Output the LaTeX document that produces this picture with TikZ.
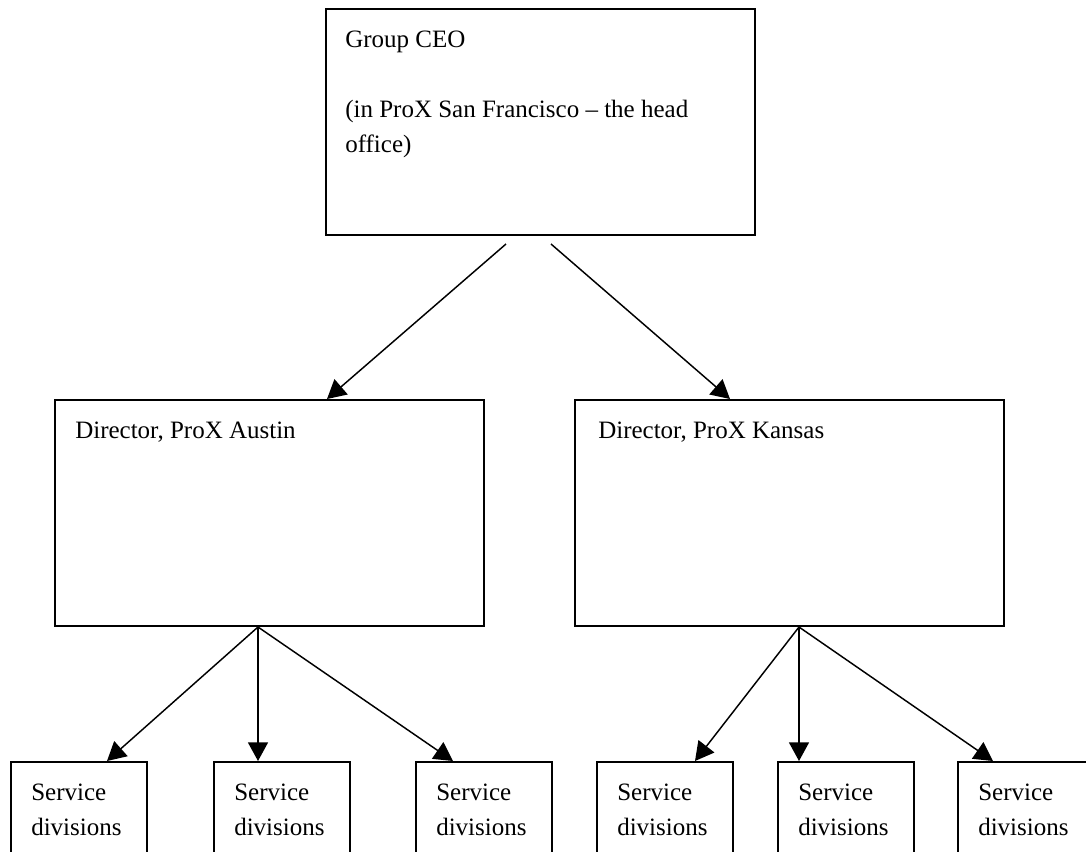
\documentclass[tikz,border=0pt]{standalone}
\usepackage{fontspec}
\setmainfont{Liberation Serif}
\usetikzlibrary{calc,arrows.meta}
\newcommand{\px}{0.75pt}

\begin{document}
\begin{tikzpicture}[x=0.75pt,y=-0.75pt,
  unit/.style={draw,line width=1.5pt,anchor=north west,inner sep=0pt},
  txt/.style={anchor=north west,inner sep=0pt,align=left,
    font=\fontsize{18.75pt}{26.25pt}\selectfont},
  link/.style={line width=1.1pt,-{Triangle[length=14pt,width=15pt]}}]
  \useasboundingbox (0,0) rectangle (1086,851);

  % head office
  \node[unit,minimum width=429*\px,minimum height=226*\px] (ceo) at (325,8) {};
  \node[txt] (ceotext) at ($(ceo.north west)+(20,23)$)
    {Group CEO\\[26.25pt](in ProX San Francisco -- the head\\office)};

  % directors
  \node[unit,minimum width=429*\px,minimum height=226*\px] (austin) at (54,399) {};
  \node[unit,minimum width=429*\px,minimum height=226*\px] (kansas) at (574,399) {};
  \node[txt] (austintext) at ($(austin.north west)+(21,23)$) {Director, ProX Austin};
  \node[txt] (kansastext) at ($(kansas.north west)+(24,23)$) {Director, ProX Kansas};

  % service divisions
  \foreach \n/\x in {1/10,2/213,3/415,4/596,5/777,6/957}{
    \node[unit,minimum width=136*\px,minimum height=110*\px] (sd\n) at (\x,761) {};
    \node[txt] (sdtext\n) at ($(sd\n.north west)+(21,23)$) {Service\\divisions};
  }

  \coordinate (austinbase) at ($(austin.south west)+(204,0)$);
  \coordinate (kansasbase) at ($(kansas.south west)+(225,0)$);

  \draw[link] ($(ceo.south west)+(181,8)$) -- ($(austin.north west)+(273,0)$);
  \draw[link] ($(ceo.south west)+(226,8)$) -- ($(kansas.north west)+(156,0)$);

  \draw[link] (austinbase) -- ($(sd1.north west)+(97,0)$);
  \draw[link] (austinbase) -- ($(sd2.north west)+(45,0)$);
  \draw[link] (austinbase) -- ($(sd3.north west)+(38,0)$);
  \draw[link] (kansasbase) -- ($(sd4.north west)+(99,0)$);
  \draw[link] (kansasbase) -- ($(sd5.north west)+(22,0)$);
  \draw[link] (kansasbase) -- ($(sd6.north west)+(36,0)$);
\end{tikzpicture}
\end{document}
